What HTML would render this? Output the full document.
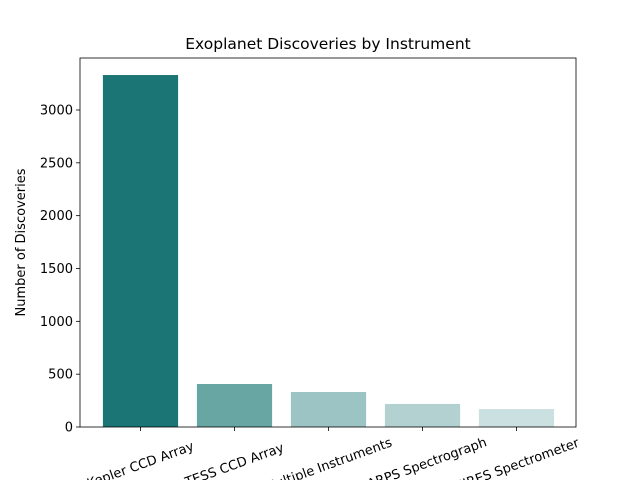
<!DOCTYPE html>
<html><head><meta charset="utf-8"><style>
body{margin:0;background:#fff;}
svg{font-family:"DejaVu Sans","Liberation Sans",sans-serif;}
</style></head><body>
<svg width="640" height="480">
<g id="plot"></g>
</svg>
<script>
const categories=["Kepler CCD Array","TESS CCD Array","Multiple Instruments","HARPS Spectrograph","HIRES Spectrometer"];
const values=[3331,407,331,218,170];
const colors=["#1b7575","#68a6a4","#9cc4c4","#b4d1d2","#cbe0e0"];
const yTicks=[0,500,1000,1500,2000,2500,3000];
const L=80,R=576,T=58,B=427;
const y=v=>B-v*(317/3000);
const step=94.0, x0=140.5;
const x=i=>x0+i*step;
const NS="http://www.w3.org/2000/svg";
const g=document.getElementById('plot');
function mk(tag,attrs,txt){const e=document.createElementNS(NS,tag);for(const k in attrs)e.setAttribute(k,attrs[k]);if(txt!==undefined)e.textContent=txt;g.appendChild(e);return e;}
const bw=step*0.8;
values.forEach((v,i)=>{
 const r=mk('rect',{x:x(i)-bw/2,y:y(v),width:bw,height:B-y(v),fill:colors[i]});
 
 
 const t=mk('line',{x1:x(i),x2:x(i),y1:B,y2:B+4,stroke:'#000','stroke-width':0.8});
 
 
 const lb=mk('text',{x:x(i),y:469,'font-size':13,'text-anchor':'middle',transform:`rotate(-20 ${x(i)} 465)`},categories[i]);
 
 
});
yTicks.forEach(v=>{
 const t=mk('line',{x1:L-4,x2:L,y1:y(v),y2:y(v),stroke:'#000','stroke-width':0.8});
 
 
 const lb=mk('text',{x:L-7,y:y(v)+4.5,'font-size':13,'text-anchor':'end'},v);
 
 
});
const fr=mk('rect',{x:L,y:T,width:R-L,height:B-T,fill:'none',stroke:'#000','stroke-width':0.8});


const ti=mk('text',{x:(L+R)/2,y:49,'font-size':15.5,'text-anchor':'middle'},'Exoplanet Discoveries by Instrument');


const yl=mk('text',{x:25,y:(T+B)/2,'font-size':13,'text-anchor':'middle',transform:`rotate(-90 25 ${(T+B)/2})`},'Number of Discoveries');


</script>
</body></html>
